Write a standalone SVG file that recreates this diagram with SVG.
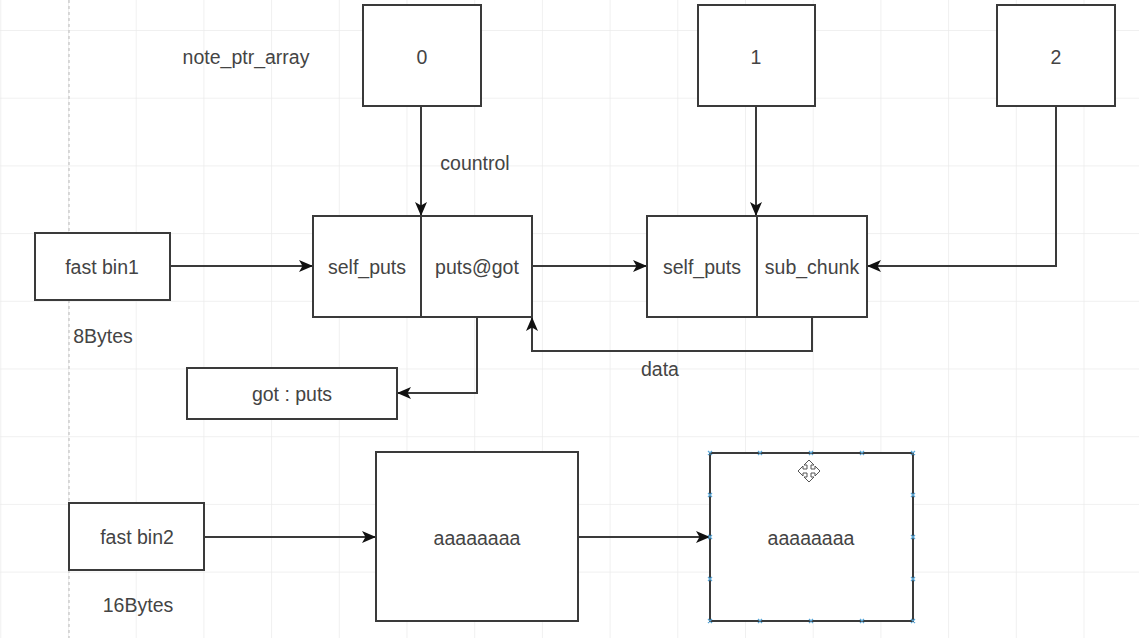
<svg xmlns="http://www.w3.org/2000/svg" width="1139" height="638" viewBox="0 0 1139 638">
<style>
.box{fill:#fff;stroke:#3a3a3a;stroke-width:2}
.t{font-family:"Liberation Sans",Arial,sans-serif;font-size:19.5px;fill:#444;text-anchor:middle;dominant-baseline:central}
.edge{fill:none;stroke:#3a3a3a;stroke-width:2}
.h{stroke:#5aa7d8;stroke-width:1.2}
</style>
<defs>
<pattern id="grid" x="0.3" y="30" width="67.7" height="67.7" patternUnits="userSpaceOnUse">
<path d="M0,0 H67.7 M0,0 V67.7" fill="none" stroke="#ebebeb" stroke-width="1.5"/>
</pattern>
<marker id="arr" viewBox="0 0 14 12" refX="13" refY="6" markerWidth="14" markerHeight="12" markerUnits="userSpaceOnUse" orient="auto">
<path d="M0,0 L14,6 L0,12 L3.5,6 z" fill="#111"/>
</marker>
</defs>
<rect width="1139" height="638" fill="#fff"/>
<rect width="1139" height="638" fill="url(#grid)"/>
<line x1="69" y1="0" x2="69" y2="638" stroke="#c4c4c4" stroke-width="1.2" stroke-dasharray="3,3"/>

<g id="connectors">
<path class="edge" d="M421,106 V215" marker-end="url(#arr)"/>
<path class="edge" d="M756,106 V215" marker-end="url(#arr)"/>
<path class="edge" d="M1056,106 V266 H868" marker-end="url(#arr)"/>
<path class="edge" d="M170,266 H312" marker-end="url(#arr)"/>
<path class="edge" d="M532,266 H646" marker-end="url(#arr)"/>
<path class="edge" d="M812,317 V351 H532 V318" marker-end="url(#arr)"/>
<path class="edge" d="M477,317 V393 H398" marker-end="url(#arr)"/>
<path class="edge" d="M204,537 H375" marker-end="url(#arr)"/>
<path class="edge" d="M578,537 H709" marker-end="url(#arr)"/>
<text class="t" x="475" y="163">countrol</text>
<text class="t" x="660" y="369">data</text>
</g>

<g id="label-note-ptr-array"><text class="t" x="246" y="57">note_ptr_array</text></g>
<g id="slot0"><rect class="box" x="363" y="5" width="118" height="101"/><text class="t" x="422" y="57">0</text></g>
<g id="slot1"><rect class="box" x="698" y="5" width="117" height="101"/><text class="t" x="756" y="57">1</text></g>
<g id="slot2"><rect class="box" x="997" y="5" width="118" height="101"/><text class="t" x="1056" y="57">2</text></g>

<g id="chunk1">
<rect class="box" x="313" y="216" width="219" height="101"/>
<line class="edge" x1="421" y1="216" x2="421" y2="317"/>
<text class="t" x="367" y="267">self_puts</text>
<text class="t" x="477" y="267">puts@got</text>
</g>
<g id="chunk2">
<rect class="box" x="647" y="216" width="220" height="101"/>
<line class="edge" x1="757" y1="216" x2="757" y2="317"/>
<text class="t" x="702" y="267">self_puts</text>
<text class="t" x="812" y="267">sub_chunk</text>
</g>

<g id="fastbin1"><rect class="box" x="35" y="233" width="135" height="67"/><text class="t" x="102" y="267">fast bin1</text></g>
<g id="label-8bytes"><text class="t" x="103" y="336">8Bytes</text></g>
<g id="got-puts"><rect class="box" x="187" y="368" width="210" height="51"/><text class="t" x="292" y="394">got : puts</text></g>

<g id="fastbin2"><rect class="box" x="69" y="503" width="135" height="67"/><text class="t" x="137" y="537">fast bin2</text></g>
<g id="label-16bytes"><text class="t" x="138" y="605">16Bytes</text></g>
<g id="data1"><rect class="box" x="376" y="452" width="202" height="169"/><text class="t" x="477" y="538">aaaaaaaa</text></g>
<g id="data2">
<rect class="box" x="710" y="453" width="203" height="168"/>
<text class="t" x="811" y="538">aaaaaaaa</text>
<g class="h">
<path d="M708,451 l4,4 m0,-4 l-4,4 M758,451 l4,4 m0,-4 l-4,4 M809,451 l4,4 m0,-4 l-4,4 M860,451 l4,4 m0,-4 l-4,4 M911,451 l4,4 m0,-4 l-4,4"/>
<path d="M708,619 l4,4 m0,-4 l-4,4 M758,619 l4,4 m0,-4 l-4,4 M809,619 l4,4 m0,-4 l-4,4 M860,619 l4,4 m0,-4 l-4,4 M911,619 l4,4 m0,-4 l-4,4"/>
<path d="M708,493 l4,4 m0,-4 l-4,4 M708,535 l4,4 m0,-4 l-4,4 M708,577 l4,4 m0,-4 l-4,4"/>
<path d="M911,493 l4,4 m0,-4 l-4,4 M911,535 l4,4 m0,-4 l-4,4 M911,577 l4,4 m0,-4 l-4,4"/>
</g>
<path d="M809,460 l5,5 h-3 v4 h4 v-3 l5,5 l-5,5 v-3 h-4 v4 h3 l-5,5 l-5,-5 h3 v-4 h-4 v3 l-5,-5 l5,-5 v3 h4 v-4 h-3 z" fill="#fff" stroke="#555" stroke-width="1"/>
</g>
</svg>
